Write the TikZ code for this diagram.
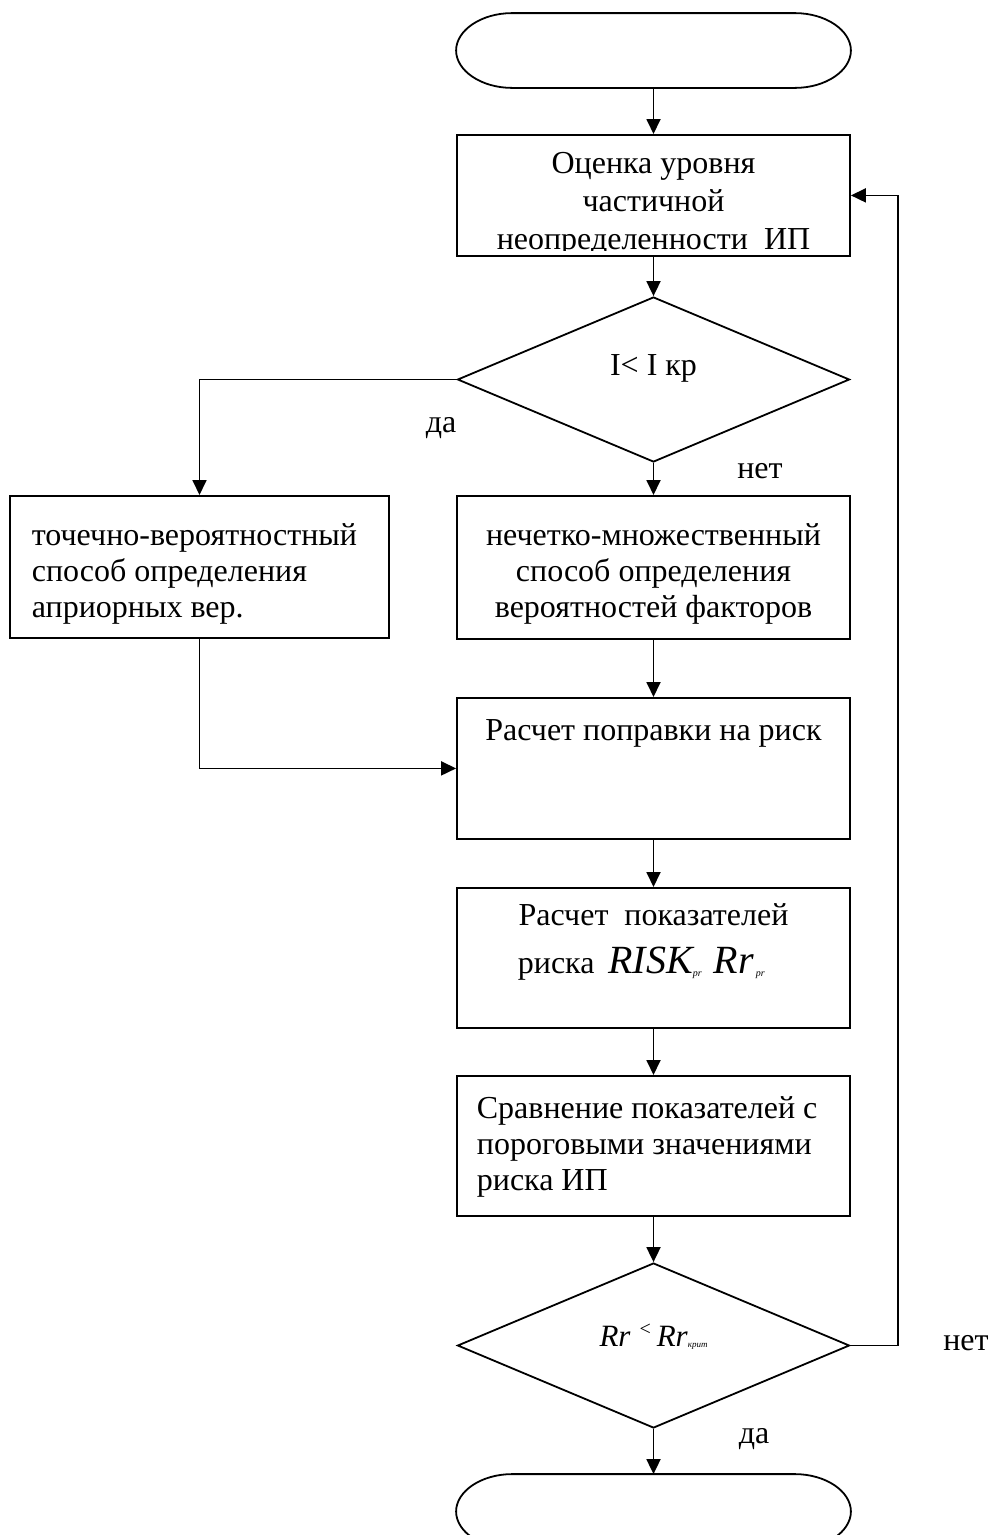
\documentclass[tikz,border=0pt]{standalone}
\usepackage{fontspec}
\setmainfont{Liberation Serif}
\usetikzlibrary{arrows.meta,shapes.geometric}
\begin{document}
\begin{tikzpicture}[x=1pt,y=-1pt,line width=1.8pt,
  box/.style={draw,rectangle,minimum width=393pt,inner sep=0pt,anchor=north},
  ghost/.style={rectangle,minimum width=393pt,minimum height=73pt,inner sep=0pt},
  dia/.style={draw,diamond,minimum width=392pt,minimum height=165pt,inner sep=0pt},
  arr/.style={-{Triangle[length=15pt,width=14pt]}},
  txt/.style={font=\fontsize{32}{36}\selectfont,inner sep=0pt},
  lab/.style={font=\fontsize{32}{36}\selectfont,inner sep=0pt,anchor=base},
  term/.style={insert path={
    ([xshift=56pt]#1.north west) -- ([xshift=-56pt]#1.north east)
    .. controls +(30.9,0) and +(0,-20.2) .. (#1.east)
    .. controls +(0,20.2) and +(30.9,0) .. ([xshift=-56pt]#1.south east)
    -- ([xshift=56pt]#1.south west)
    .. controls +(-30.9,0) and +(0,20.2) .. (#1.west)
    .. controls +(0,-20.2) and +(-30.9,0) .. cycle}}]
\clip (0,0) rectangle (994,1535);
% start terminal
\node[ghost] (st) at (653.5,50.5) {};
\draw[term=st];
% box 1
\node[box,minimum height=121pt] (b1) at (653.5,134) {};
\begin{scope}
\clip (b1.north west) rectangle ([yshift=6pt]b1.south east);
\node[txt,align=center,anchor=base,font=\fontsize{32}{38}\selectfont] (t1) at (653.5,249) {Оценка уровня\\частичной\\неопределенности\ \ ИП};
\end{scope}
% diamond 1
\node[dia] (d1) at (653.5,379.5) {};
\node[lab] (t2) at (653.5,375) {I< I кр};
% boxes 2
\node[box,minimum width=379pt,minimum height=142pt] (b2l) at (199.5,495) {};
\node[txt,align=left,anchor=base west] (t3) at (31,617) {точечно-вероятностный\\способ определения\\априорных вер.};
\node[box,minimum height=143pt] (b2m) at (653.5,495) {};
\node[txt,align=center,anchor=base] (t4) at (653.5,617) {нечетко-множественный\\способ определения\\вероятностей факторов};
% box 3
\node[box,minimum height=141pt] (b3) at (653.5,697) {};
\node[lab] (t5) at (653.5,740) {Расчет поправки на риск};
% box 4
\node[box,minimum height=140pt] (b4) at (653.5,887) {};
\node[lab] (t6) at (653.5,925) {Расчет\ \ показателей};
\node[lab,anchor=base west] (t7) at (517,973) {риска\hspace{14pt}{\fontsize{40}{40}\selectfont\itshape RISK\raisebox{-3pt}{\fontsize{10}{10}\selectfont\itshape pr}\hspace{12pt}Rr\hspace{2pt}\raisebox{-3pt}{\fontsize{10}{10}\selectfont\itshape pr}}};
% box 5
\node[box,minimum height=140pt] (b5) at (653.5,1075) {};
\node[txt,align=left,anchor=base west] (t8) at (476,1190) {Сравнение показателей с\\пороговыми значениями\\риска ИП};
% diamond 2
\node[dia] (d2) at (653.5,1345.5) {};
\node[inner sep=0pt,anchor=base] (t9) at (653.5,1346) {\fontsize{31}{31}\selectfont\itshape Rr\hspace{9pt}\raisebox{11pt}{\upshape\fontsize{20}{20}\selectfont <}\hspace{6pt}Rr\raisebox{-1pt}{\fontsize{9}{9}\selectfont крит}};
% end terminal
\node[ghost] (en) at (653.5,1511.5) {};
\draw[term=en];
% labels
\node[lab] (l1) at (441,432) {да};
\node[lab] (l2) at (760,478) {нет};
\node[lab] (l3) at (966,1350) {нет};
\node[lab] (l4) at (754,1443) {да};
% connectors
\coordinate (rx) at (898,0);
\draw[arr] (st.south) -- (b1.north);
\draw[arr] (b1.south) -- (d1.north);
\draw[arr] (d1.west) -| (b2l.north);
\draw[arr] (d1.south) -- (b2m.north);
\draw[arr] (b2m.south) -- (b3.north);
\draw[arr] (b2l.south) |- (b3.west);
\draw[arr] (b3.south) -- (b4.north);
\draw[arr] (b4.south) -- (b5.north);
\draw[arr] (b5.south) -- (d2.north);
\draw[arr] (d2.south) -- (en.north);
\draw[arr] (d2.east) -- (d2.east -| rx) |- (b1.east);
\end{tikzpicture}
\end{document}
